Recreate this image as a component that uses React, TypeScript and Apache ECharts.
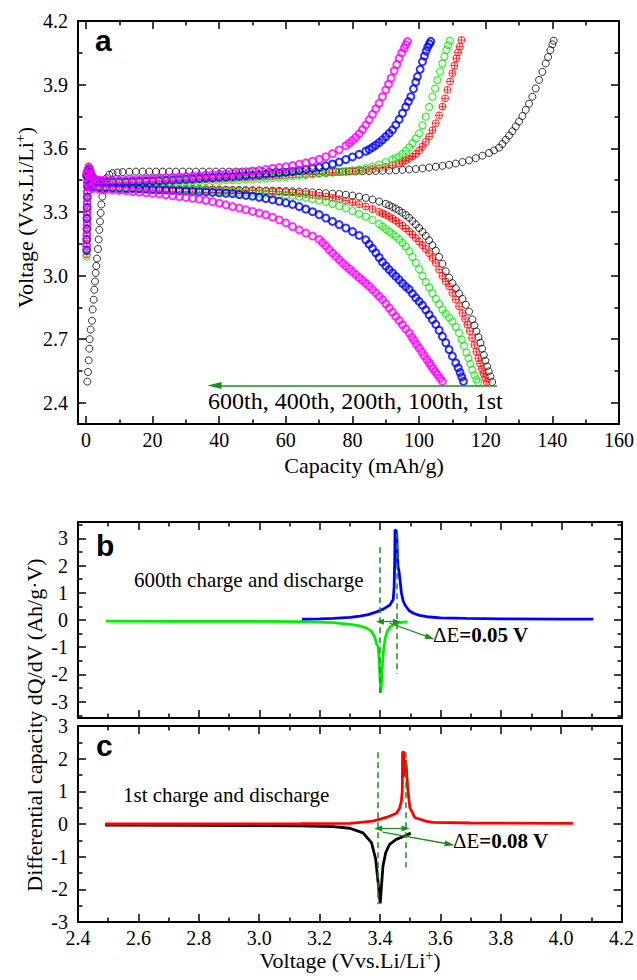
import React, { useEffect, useRef } from 'react';
import * as echarts from 'echarts';

// ---------- Panel a: charge / discharge profiles, [capacity (mAh/g), voltage (V)] ----------
const charge1st = [
  [0.4, 2.5], [0.6, 2.545], [0.8, 2.6], [1.0, 2.655], [1.1, 2.7], [1.4, 2.745], [1.8, 2.787], [2.0, 2.84],
  [2.3, 2.886], [2.5, 2.933], [2.7, 2.972], [2.9, 3.012], [3.1, 3.045], [3.3, 3.08], [3.6, 3.125], [3.8, 3.17],
  [4.0, 3.215], [4.2, 3.255], [4.4, 3.295], [4.6, 3.335], [4.9, 3.372], [5.2, 3.407], [5.6, 3.435], [6.2, 3.459],
  [7.0, 3.475], [8.0, 3.483], [9.5, 3.486], [11, 3.488], [13, 3.489], [15, 3.49], [17, 3.49], [19, 3.49],
  [21, 3.49], [23, 3.49], [25, 3.49], [27, 3.49], [29, 3.49], [31, 3.49], [33, 3.49], [35, 3.49], [37, 3.49],
  [39, 3.49], [41, 3.49], [43, 3.49], [45, 3.49], [47, 3.49], [49, 3.49], [51, 3.49], [53, 3.49], [55, 3.49],
  [57, 3.49], [59, 3.49], [61, 3.49], [63, 3.49], [65, 3.49], [67, 3.49], [69, 3.49], [71, 3.49], [73, 3.49],
  [75, 3.49], [77, 3.49], [79, 3.491], [81, 3.491], [83, 3.492], [85, 3.492], [87, 3.493], [89, 3.494],
  [91, 3.495], [93, 3.496], [95, 3.498], [97, 3.5], [99, 3.502], [101, 3.505], [103, 3.509], [105, 3.513],
  [107, 3.517], [109, 3.522], [111, 3.528], [113, 3.535], [115, 3.543], [117, 3.553], [119, 3.565], [121, 3.578],
  [122.5, 3.59], [124, 3.603], [125, 3.62], [126, 3.64], [127, 3.66], [128, 3.68], [129, 3.703], [130, 3.726],
  [131, 3.752], [132, 3.781], [133, 3.81], [134, 3.843], [135, 3.882], [136, 3.922], [137, 3.96], [138, 4.0],
  [138.7, 4.03], [139.4, 4.063], [140, 4.09], [140.4, 4.107],
];
const discharge1st = [
  [0.2, 3.47], [0.6, 3.44], [1.2, 3.426], [2, 3.421], [4, 3.418], [6, 3.416], [8, 3.415], [10, 3.414], [12, 3.413],
  [14, 3.412], [16, 3.411], [18, 3.41], [20, 3.41], [22, 3.409], [24, 3.408], [26, 3.408], [28, 3.407], [30, 3.407],
  [32, 3.406], [34, 3.406], [36, 3.405], [38, 3.405], [40, 3.404], [42, 3.404], [44, 3.403], [46, 3.403],
  [48, 3.402], [50, 3.402], [52, 3.401], [54, 3.4], [56, 3.4], [58, 3.399], [60, 3.398], [62, 3.397], [64, 3.396],
  [66, 3.394], [68, 3.392], [70, 3.39], [72, 3.388], [74, 3.386], [76, 3.384], [78, 3.381], [80, 3.377],
  [82, 3.372], [84, 3.366], [86, 3.358], [88, 3.349], [90, 3.338], [91, 3.331], [92, 3.323], [93, 3.315],
  [94, 3.306], [95, 3.296], [96, 3.285], [97, 3.272], [98, 3.257], [99, 3.241], [100, 3.224], [101, 3.206],
  [102, 3.187], [103, 3.166], [104, 3.143], [105, 3.117], [106, 3.088], [107, 3.055], [108, 3.02], [109, 2.99],
  [110, 2.964], [111, 2.94], [112, 2.915], [113, 2.89], [114, 2.862], [115, 2.83], [116, 2.793], [116.6, 2.765],
  [117.2, 2.737], [117.8, 2.71], [118.4, 2.683], [118.9, 2.655], [119.4, 2.625], [119.9, 2.598], [120.4, 2.572],
  [120.9, 2.548], [121.4, 2.524], [121.9, 2.498],
];
const charge100th = [
  [0.2, 3.1], [0.2, 3.15], [0.25, 3.2], [0.3, 3.25], [0.3, 3.3], [0.35, 3.35], [0.4, 3.4], [0.45, 3.45],
  [0.55, 3.49], [0.8, 3.515], [1.2, 3.505], [1.7, 3.48], [2.3, 3.462], [3.2, 3.451], [4.5, 3.446], [6, 3.443],
  [8, 3.441], [10, 3.44], [12, 3.44], [14, 3.44], [16, 3.441], [18, 3.442], [20, 3.443], [22, 3.444], [24, 3.445],
  [26, 3.446], [28, 3.448], [30, 3.449], [32, 3.45], [34, 3.452], [36, 3.453], [38, 3.455], [40, 3.456],
  [42, 3.458], [44, 3.459], [46, 3.461], [48, 3.462], [50, 3.464], [52, 3.466], [54, 3.467], [56, 3.469],
  [58, 3.471], [60, 3.473], [62, 3.476], [64, 3.478], [66, 3.479], [68, 3.481], [70, 3.482], [72, 3.484],
  [74, 3.486], [76, 3.487], [78, 3.489], [80, 3.492], [82, 3.495], [84, 3.498], [86, 3.502], [88, 3.506],
  [90, 3.512], [92, 3.52], [94, 3.53], [95, 3.536], [96, 3.543], [97, 3.551], [98, 3.561], [99, 3.573],
  [100, 3.588], [101, 3.608], [102, 3.63], [103, 3.655], [104, 3.685], [105, 3.718], [106, 3.755], [107, 3.796],
  [107.8, 3.835], [108.5, 3.875], [109.3, 3.915], [110, 3.954], [110.6, 3.99], [111.2, 4.024], [111.7, 4.052],
  [112.2, 4.079], [112.7, 4.11],
];
const discharge100th = [
  [0.2, 3.49], [0.6, 3.452], [1.2, 3.432], [2, 3.426], [4, 3.422], [6, 3.42], [8, 3.419], [10, 3.418], [12, 3.417],
  [14, 3.416], [16, 3.415], [18, 3.414], [20, 3.414], [22, 3.413], [24, 3.412], [26, 3.411], [28, 3.41], [30, 3.41],
  [32, 3.409], [34, 3.408], [36, 3.407], [38, 3.406], [40, 3.405], [42, 3.404], [44, 3.403], [46, 3.402],
  [48, 3.401], [50, 3.4], [52, 3.399], [54, 3.398], [56, 3.396], [58, 3.395], [60, 3.393], [62, 3.391], [64, 3.388],
  [66, 3.384], [68, 3.38], [70, 3.376], [72, 3.372], [74, 3.366], [76, 3.36], [78, 3.353], [80, 3.345], [82, 3.336],
  [84, 3.325], [86, 3.313], [88, 3.3], [89, 3.293], [90, 3.286], [91, 3.277], [92, 3.268], [93, 3.258], [94, 3.247],
  [95, 3.235], [96, 3.222], [97, 3.208], [98, 3.193], [99, 3.177], [100, 3.16], [101, 3.143], [102, 3.125],
  [103, 3.105], [104, 3.082], [105, 3.059], [106, 3.028], [107, 2.998], [108, 2.972], [109, 2.949], [110, 2.918],
  [111, 2.886], [112, 2.855], [113, 2.823], [113.8, 2.795], [114.5, 2.768], [115.2, 2.738], [115.9, 2.705],
  [116.6, 2.672], [117.2, 2.64], [117.8, 2.61], [118.3, 2.585], [118.8, 2.56], [119.3, 2.538], [119.8, 2.518],
  [120.3, 2.498],
];
const charge200th = [
  [0.15, 3.09], [0.2, 3.14], [0.25, 3.19], [0.3, 3.24], [0.3, 3.29], [0.35, 3.34], [0.4, 3.39], [0.45, 3.44],
  [0.55, 3.48], [0.8, 3.505], [1.2, 3.495], [1.7, 3.47], [2.3, 3.452], [3.2, 3.442], [4.5, 3.437], [6, 3.435],
  [8, 3.434], [10, 3.434], [12, 3.434], [14, 3.435], [16, 3.436], [18, 3.437], [20, 3.438], [22, 3.439], [24, 3.44],
  [26, 3.44], [28, 3.441], [30, 3.442], [32, 3.443], [34, 3.444], [36, 3.445], [38, 3.446], [40, 3.447],
  [42, 3.449], [44, 3.45], [46, 3.451], [48, 3.453], [50, 3.454], [52, 3.456], [54, 3.458], [56, 3.46],
  [58, 3.462], [60, 3.465], [62, 3.468], [64, 3.471], [66, 3.474], [68, 3.477], [70, 3.48], [72, 3.483],
  [74, 3.486], [76, 3.489], [78, 3.492], [80, 3.496], [82, 3.5], [84, 3.506], [86, 3.513], [88, 3.523],
  [90, 3.535], [92, 3.547], [93, 3.554], [94, 3.561], [95, 3.574], [96, 3.588], [97, 3.604], [98, 3.624],
  [99, 3.646], [100, 3.671], [101, 3.708], [102, 3.749], [103, 3.795], [104, 3.843], [104.8, 3.882],
  [105.5, 3.922], [106.3, 3.962], [107, 4.0], [107.6, 4.032], [108.2, 4.063], [108.7, 4.086], [109.2, 4.107],
];
const discharge200th = [
  [0.2, 3.48], [0.6, 3.45], [1.2, 3.43], [2, 3.424], [4, 3.421], [6, 3.419], [8, 3.418], [10, 3.417], [12, 3.416],
  [14, 3.415], [16, 3.414], [18, 3.413], [20, 3.412], [22, 3.411], [24, 3.41], [26, 3.409], [28, 3.408], [30, 3.406],
  [32, 3.405], [34, 3.404], [36, 3.402], [38, 3.401], [40, 3.399], [42, 3.397], [44, 3.396], [46, 3.394],
  [48, 3.392], [50, 3.39], [52, 3.388], [54, 3.386], [56, 3.384], [58, 3.381], [60, 3.379], [62, 3.376],
  [64, 3.372], [66, 3.367], [68, 3.361], [70, 3.354], [72, 3.347], [74, 3.338], [76, 3.328], [78, 3.317],
  [80, 3.304], [82, 3.291], [84, 3.278], [86, 3.262], [88, 3.243], [89, 3.231], [90, 3.219], [91, 3.207],
  [92, 3.196], [93, 3.184], [94, 3.17], [95, 3.154], [96, 3.137], [97, 3.115], [98, 3.088], [99, 3.06],
  [100, 3.03], [101, 2.998], [102, 2.97], [103, 2.944], [104, 2.917], [105, 2.89], [106, 2.865], [107, 2.84],
  [108, 2.82], [109, 2.802], [110, 2.783], [111, 2.758], [112, 2.729], [112.8, 2.698], [113.5, 2.668],
  [114.2, 2.637], [114.8, 2.61], [115.4, 2.583], [116, 2.556], [116.6, 2.53], [117.2, 2.51], [117.7, 2.497],
];
const charge400th = [
  [0.2, 3.12], [0.25, 3.17], [0.3, 3.22], [0.3, 3.27], [0.35, 3.32], [0.4, 3.37], [0.45, 3.42], [0.55, 3.47],
  [0.8, 3.5], [1.2, 3.49], [1.7, 3.467], [2.3, 3.452], [3.2, 3.445], [4.5, 3.442], [6, 3.441], [8, 3.441],
  [10, 3.442], [12, 3.442], [14, 3.443], [16, 3.444], [18, 3.446], [20, 3.447], [22, 3.448], [24, 3.45],
  [26, 3.451], [28, 3.453], [30, 3.455], [32, 3.456], [34, 3.458], [36, 3.46], [38, 3.462], [40, 3.464],
  [42, 3.465], [44, 3.467], [46, 3.469], [48, 3.471], [50, 3.473], [52, 3.475], [54, 3.478], [56, 3.481],
  [58, 3.483], [60, 3.486], [62, 3.49], [64, 3.495], [66, 3.5], [68, 3.505], [70, 3.51], [72, 3.517], [74, 3.525],
  [76, 3.535], [78, 3.547], [80, 3.559], [82, 3.571], [84, 3.586], [85, 3.595], [86, 3.604], [87, 3.615],
  [88, 3.627], [89, 3.64], [90, 3.655], [91, 3.67], [92, 3.687], [93, 3.71], [94, 3.736], [95, 3.765],
  [96, 3.795], [96.8, 3.82], [97.5, 3.843], [98.3, 3.88], [99, 3.912], [99.5, 3.938], [100.3, 3.972],
  [101, 4.008], [101.6, 4.035], [102.1, 4.058], [102.6, 4.077], [103.1, 4.092], [103.5, 4.104],
];
const discharge400th = [
  [0.2, 3.47], [0.6, 3.44], [1.2, 3.425], [2, 3.418], [4, 3.415], [6, 3.413], [8, 3.412], [10, 3.411], [12, 3.41],
  [14, 3.41], [16, 3.409], [18, 3.407], [20, 3.405], [22, 3.404], [24, 3.403], [26, 3.401], [28, 3.4], [30, 3.398],
  [32, 3.397], [34, 3.395], [36, 3.394], [38, 3.392], [40, 3.39], [42, 3.388], [44, 3.386], [46, 3.382],
  [48, 3.378], [50, 3.374], [52, 3.369], [54, 3.363], [56, 3.357], [58, 3.35], [60, 3.343], [62, 3.335],
  [64, 3.325], [66, 3.313], [68, 3.301], [70, 3.287], [72, 3.271], [74, 3.255], [76, 3.24], [78, 3.224],
  [80, 3.207], [82, 3.189], [84, 3.168], [85, 3.148], [86, 3.128], [87, 3.107], [88, 3.085], [89, 3.063],
  [90, 3.045], [91, 3.028], [92, 3.012], [93, 2.996], [94, 2.98], [95, 2.963], [96, 2.948], [97, 2.935],
  [98, 2.915], [99, 2.895], [100, 2.878], [101, 2.86], [102, 2.838], [103, 2.815], [104, 2.792], [105, 2.77],
  [106, 2.742], [107, 2.713], [108, 2.683], [109, 2.651], [110, 2.62], [111, 2.588], [111.7, 2.565],
  [112.3, 2.543], [112.8, 2.522], [113.3, 2.501],
];
const charge600th = [
  [0.2, 3.14], [0.25, 3.19], [0.3, 3.24], [0.3, 3.29], [0.35, 3.34], [0.4, 3.39], [0.45, 3.44], [0.55, 3.48],
  [0.8, 3.505], [1.2, 3.495], [1.7, 3.47], [2.3, 3.456], [3.2, 3.451], [4.5, 3.449], [6, 3.449], [8, 3.45],
  [10, 3.45], [12, 3.451], [14, 3.452], [16, 3.453], [18, 3.455], [20, 3.457], [22, 3.459], [24, 3.461],
  [26, 3.463], [28, 3.465], [30, 3.467], [32, 3.469], [34, 3.471], [36, 3.473], [38, 3.475], [40, 3.478],
  [42, 3.48], [44, 3.483], [46, 3.486], [48, 3.489], [50, 3.492], [52, 3.496], [54, 3.5], [56, 3.505],
  [58, 3.509], [60, 3.513], [62, 3.518], [64, 3.524], [66, 3.531], [68, 3.539], [70, 3.548], [72, 3.56],
  [74, 3.575], [76, 3.592], [78, 3.612], [79, 3.624], [80, 3.637], [81, 3.651], [82, 3.668], [83, 3.688],
  [84, 3.71], [85, 3.734], [86, 3.76], [87, 3.786], [88, 3.812], [89, 3.843], [90, 3.875], [90.8, 3.902],
  [91.6, 3.93], [92.5, 3.965], [93.3, 3.995], [94, 4.024], [94.8, 4.05], [95.5, 4.072], [96, 4.088], [96.5, 4.103],
];
const discharge600th = [
  [0.2, 3.48], [0.6, 3.44], [1.2, 3.42], [2, 3.41], [4, 3.406], [6, 3.404], [8, 3.403], [10, 3.401], [12, 3.399],
  [14, 3.396], [16, 3.393], [18, 3.39], [20, 3.387], [22, 3.384], [24, 3.38], [26, 3.376], [28, 3.372], [30, 3.368],
  [32, 3.364], [34, 3.36], [36, 3.354], [38, 3.348], [40, 3.341], [42, 3.333], [44, 3.325], [46, 3.318],
  [48, 3.31], [50, 3.302], [52, 3.294], [54, 3.286], [56, 3.275], [58, 3.262], [60, 3.248], [62, 3.231],
  [64, 3.215], [66, 3.2], [68, 3.186], [70, 3.17], [71, 3.155], [72, 3.14], [73, 3.122], [74, 3.106], [75, 3.09],
  [76, 3.075], [77, 3.059], [78, 3.045], [79, 3.032], [80, 3.018], [81, 3.004], [82, 2.99], [83, 2.977],
  [84, 2.963], [85, 2.949], [86, 2.934], [87, 2.918], [88, 2.902], [89, 2.886], [90, 2.867], [91, 2.847],
  [92, 2.827], [93, 2.807], [94, 2.788], [95, 2.768], [96, 2.748], [97, 2.729], [97.8, 2.71], [98.5, 2.694],
  [99.2, 2.676], [100, 2.658], [100.8, 2.64], [101.5, 2.623], [102.3, 2.605], [103, 2.588], [103.6, 2.574],
  [104.2, 2.56], [104.9, 2.546], [105.5, 2.533], [106.3, 2.516], [107, 2.501],
];

// ---------- Panels b and c: differential capacity, [voltage (V), dQ/dV (Ah/g·V)] ----------
const dqdvCharge600th = [
  [3.141, 0.03], [3.2, 0.04], [3.245, 0.06], [3.3, 0.1], [3.333, 0.14], [3.36, 0.2], [3.388, 0.3], [3.41, 0.4],
  [3.432, 0.55], [3.443, 0.75], [3.446, 1.2], [3.448, 2.2], [3.449, 3.3], [3.452, 3.3], [3.455, 3.1],
  [3.457, 2.3], [3.459, 1.95], [3.462, 1.8], [3.465, 1.5], [3.47, 1.0], [3.476, 0.7], [3.482, 0.55],
  [3.495, 0.35], [3.51, 0.25], [3.53, 0.17], [3.554, 0.12], [3.6, 0.08], [3.686, 0.06], [3.8, 0.04], [4.0, 0.03],
  [4.105, 0.03],
];
const dqdvDischarge600th = [
  [2.493, -0.04], [2.7, -0.05], [3.0, -0.05], [3.135, -0.06], [3.245, -0.1], [3.3, -0.16], [3.333, -0.22],
  [3.355, -0.3], [3.372, -0.43], [3.383, -0.67], [3.388, -0.88], [3.393, -0.98], [3.396, -1.4], [3.399, -2.1],
  [3.402, -2.68], [3.405, -2.2], [3.408, -1.5], [3.412, -1.0], [3.417, -0.65], [3.424, -0.4], [3.433, -0.25],
  [3.45, -0.14], [3.47, -0.09], [3.489, -0.07],
];
const dqdvCharge1st = [
  [2.49, 0.0], [2.8, 0.0], [3.135, 0.01], [3.3, 0.02], [3.377, 0.09], [3.421, 0.2], [3.455, 0.33], [3.465, 0.48],
  [3.471, 0.7], [3.474, 1.0], [3.475, 2.2], [3.479, 2.2], [3.481, 1.45], [3.484, 1.95], [3.487, 1.8],
  [3.492, 1.1], [3.499, 0.5], [3.51, 0.3], [3.515, 0.2], [3.554, 0.08], [3.576, 0.05], [3.7, 0.03], [4.039, 0.02],
];
const dqdvDischarge1st = [
  [2.49, -0.03], [2.8, -0.04], [3.135, -0.06], [3.245, -0.08], [3.3, -0.13], [3.344, -0.27], [3.372, -0.57],
  [3.386, -1.08], [3.394, -1.8], [3.401, -2.43], [3.405, -1.9], [3.41, -1.29], [3.419, -0.88], [3.432, -0.62],
  [3.454, -0.47], [3.476, -0.39], [3.502, -0.28],
];

// Redox peak positions (V) used for the ΔE markers
const peaks600th = [3.399, 3.455];
const peaks1st = [3.394, 3.485];

// ---------- Tick values ----------
const capTicks = [0, 20, 40, 60, 80, 100, 120, 140, 160];
const capMinorTicks = [10, 30, 50, 70, 90, 110, 130, 150];
const voltTicksA = [2.4, 2.7, 3.0, 3.3, 3.6, 3.9, 4.2];
const voltMinorTicksA = [2.55, 2.85, 3.15, 3.45, 3.75, 4.05];
const voltTicksBC = [2.4, 2.6, 2.8, 3.0, 3.2, 3.4, 3.6, 3.8, 4.0, 4.2];
const voltMinorTicksBC = [2.5, 2.7, 2.9, 3.1, 3.3, 3.5, 3.7, 3.9, 4.1];
const dqdvTicks = [-3, -2, -1, 0, 1, 2, 3];
const dqdvMinorTicksB = [-3.5, -2.5, -1.5, -0.5, 0.5, 1.5, 2.5, 3.5];
const dqdvMinorTicksC = [-2.5, -1.5, -0.5, 0.5, 1.5, 2.5];

const SERIF = 'Liberation Serif';
const SANS = 'Liberation Sans';
const ANNOT = '#1e8c1e';

function axisGroup(
  dim: 'x' | 'y', gridIndex: number, min: number, max: number,
  majors: number[], minors: number[], showLabels: boolean, fmt: (v: number) => string,
) {
  const sides = dim === 'x' ? ['bottom', 'top'] : ['left', 'right'];
  const out: any[] = [];
  sides.forEach((pos, si) => {
    [majors, minors].forEach((vals, mi) => {
      out.push({
        type: 'value', gridIndex, min, max, position: pos,
        axisLine: { show: mi === 0, onZero: false, lineStyle: { color: '#000', width: 2 } },
        axisTick: {
          show: true, inside: true, length: mi === 0 ? 8 : 4.5, customValues: vals,
          lineStyle: { color: '#000', width: 1.5 },
        },
        axisLabel: {
          show: showLabels && si === 0 && mi === 0, customValues: vals, formatter: fmt,
          color: '#000', fontFamily: SERIF, fontSize: 20, margin: dim === 'x' ? 6 : 10,
        },
        splitLine: { show: false },
        axisPointer: { show: false },
      });
    });
  });
  return out;
}

const RED_MARK = 'path://M0,-10A10,10,0,1,1,0,10A10,10,0,1,1,0,-10ZM-10,0L10,0M0,-10L0,10';

function profile(name: string, data: number[][], color: string, width: number, symbol = 'circle', size = 7) {
  return {
    name, type: 'scatter', xAxisIndex: 0, yAxisIndex: 0, data, symbol, symbolSize: size, silent: true,
    itemStyle: { color: 'rgba(255,255,255,0)', borderColor: color, borderWidth: width },
    emphasis: { disabled: true },
  };
}

function dqdv(name: string, data: number[][], color: string, idx: number) {
  return {
    name, type: 'line', xAxisIndex: idx, yAxisIndex: idx, data, showSymbol: false, silent: true,
    lineStyle: { color, width: 2.8 }, emphasis: { disabled: true },
  };
}

const seg = (a: number[], b: number[], s0: string, s1: string, style: any, size: any = [7, 10]) => [
  { coord: a, symbol: s0, symbolSize: size, lineStyle: style },
  { coord: b, symbol: s1, symbolSize: size },
];

const dashed = { color: ANNOT, width: 1.5, type: [6, 4] };
const solid = { color: ANNOT, width: 1.3, type: 'solid' };

export default function App() {
  const ref = useRef<HTMLDivElement>(null);

  useEffect(() => {
    if (!ref.current) return;
    const chart = echarts.init(ref.current, null, { renderer: 'svg', width: 637, height: 980 });

    const one = (v: number) => v.toFixed(1);
    const int = (v: number) => String(v);

    const xAxes = [
      ...axisGroup('x', 0, -2.4, 160, capTicks, capMinorTicks, true, int),
      ...axisGroup('x', 1, 2.4, 4.2, voltTicksBC, voltMinorTicksBC, false, one),
      ...axisGroup('x', 2, 2.4, 4.2, voltTicksBC, voltMinorTicksBC, true, one),
    ];
    const yAxes = [
      ...axisGroup('y', 0, 2.3, 4.2, voltTicksA, voltMinorTicksA, true, one),
      ...axisGroup('y', 1, -3.6, 3.6, dqdvTicks, dqdvMinorTicksB, true, int),
      ...axisGroup('y', 2, -3, 3, dqdvTicks, dqdvMinorTicksC, true, int),
    ];

    const markBase = { silent: true, animation: false, label: { show: false }, emphasis: { disabled: true } };

    const series: any[] = [
      {
        ...profile('1st charge', charge1st, '#000', 1),
        markLine: {
          ...markBase,
          data: [seg([123.4, 2.481], [38.6, 2.481], 'none', 'triangle', { color: ANNOT, width: 1.5, type: 'solid' }, [7, 14])],
        },
      },
      profile('1st discharge', discharge1st, '#000', 1),
      profile('100th charge', charge100th, '#ff0000', 1, RED_MARK, 7),
      profile('100th discharge', discharge100th, '#ff0000', 1, RED_MARK, 7),
      profile('200th charge', charge200th, '#00ee00', 1.2),
      profile('200th discharge', discharge200th, '#00ee00', 1.2),
      profile('400th charge', charge400th, '#0000ff', 2),
      profile('400th discharge', discharge400th, '#0000ff', 2),
      profile('600th charge', charge600th, '#ff00ff', 2),
      profile('600th discharge', discharge600th, '#ff00ff', 2),
      dqdv('600th discharge dQ/dV', dqdvDischarge600th, '#00ee00', 4),
      {
        ...dqdv('600th charge dQ/dV', dqdvCharge600th, '#0000ff', 4),
        markLine: {
          ...markBase,
          data: [
            seg([peaks600th[0], 2.67], [peaks600th[0], -2.67], 'none', 'none', dashed),
            seg([peaks600th[1], 3.19], [peaks600th[1], -1.98], 'none', 'none', dashed),
            seg([peaks600th[0], -0.06], [peaks600th[1], -0.06], 'triangle', 'triangle', solid, [6, 8]),
            seg([3.43, -0.11], [3.565, -0.65], 'none', 'triangle', { ...solid, curveness: -0.35 }, [6, 10]),
          ],
        },
      },
      dqdv('1st discharge dQ/dV', dqdvDischarge1st, '#000', 8),
      {
        ...dqdv('1st charge dQ/dV', dqdvCharge1st, '#ff0000', 8),
        markLine: {
          ...markBase,
          data: [
            seg([peaks1st[0], 2.2], [peaks1st[0], -2.46], 'none', 'none', dashed),
            seg([peaks1st[1], 2.2], [peaks1st[1], -1.33], 'none', 'none', dashed),
            seg([peaks1st[0], -0.14], [peaks1st[1], -0.14], 'triangle', 'triangle', solid, [6, 8]),
            seg([3.409, -0.25], [3.631, -0.62], 'none', 'triangle', { ...solid, curveness: -0.1 }, [6, 10]),
          ],
        },
      },
    ];

    // Text helper: plain strings get an explicit CSS font, rich strings per-fragment styles
    const txt = (x: number, y: number, text: string, size: number, extra: any = {}, family = SERIF, weight = 'normal') => ({
      type: 'text', x, y, silent: true, z: 100,
      style: {
        text, fill: '#000', align: 'left', verticalAlign: 'middle',
        font: `${weight} ${size}px ${family}`, fontFamily: family, fontSize: size, fontWeight: weight,
        ...extra,
      },
    });
    const f = (size: number, weight = 'normal') => ({ fontFamily: SERIF, fontSize: size, fontWeight: weight });
    const sup = { fontFamily: SERIF, fontSize: 14, verticalAlign: 'top', lineHeight: 14 };
    const volt = '{t|Voltage (Vvs.Li/Li}{s|+}{t|)}';

    const option: any = {
      animation: false,
      backgroundColor: '#fff',
      grid: [
        { left: 78, top: 21, width: 544, height: 403 },
        { left: 78, top: 522, width: 544, height: 196 },
        { left: 78, top: 726, width: 544, height: 196 },
      ],
      xAxis: xAxes,
      yAxis: yAxes,
      series,
      graphic: [
        txt(95, 40, 'a', 30, {}, SANS, 'bold'),
        txt(96, 545, 'b', 30, {}, SANS, 'bold'),
        txt(96, 745, 'c', 30, {}, SANS, 'bold'),
        txt(208, 401, '600th, 400th, 200th, 100th, 1st', 24),
        txt(134, 580, '600th charge and discharge', 21),
        txt(123, 795, '1st charge and discharge', 21),
        txt(433, 635, '{n|ΔE}{b|=0.05 V}', 21, { rich: { n: f(21), b: f(21, 'bold') } }),
        txt(453, 841, '{n|ΔE}{b|=0.08 V}', 21, { rich: { n: f(21), b: f(21, 'bold') } }),
        txt(364, 465, 'Capacity (mAh/g)', 22, { align: 'center' }),
        txt(350, 960, volt, 22, { align: 'center', rich: { t: { ...f(22), lineHeight: 24 }, s: sup } }),
        {
          ...txt(25, 217.5, volt, 22, { align: 'center', rich: { t: { ...f(22), lineHeight: 24 }, s: sup } }),
          rotation: Math.PI / 2,
        },
        {
          ...txt(34, 725, '{t|Differential capacity dQ/dV (Ah/g·V)}', 22, { align: 'center', rich: { t: f(22) } }),
          rotation: Math.PI / 2,
        },
      ],
    };

    chart.setOption(option);
    return () => chart.dispose();
  }, []);

  return (
    <div
      ref={ref}
      style={{ position: 'absolute', left: 0, top: 0, width: 637, height: 980, background: '#fff' }}
    />
  );
}
